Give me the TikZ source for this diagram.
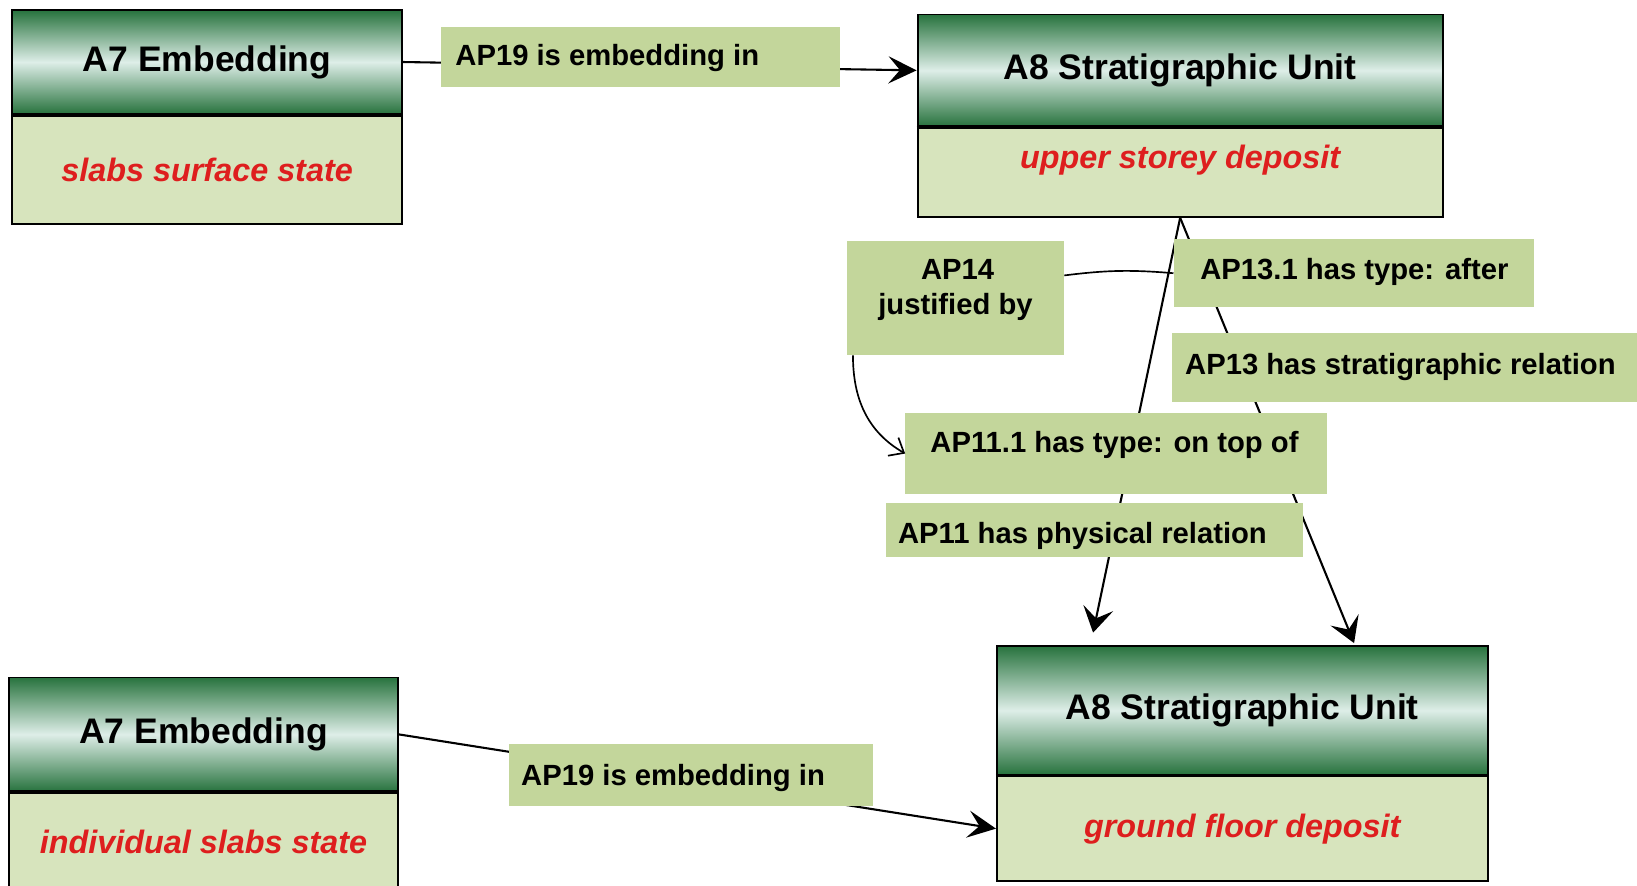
\documentclass[tikz,border=0pt]{standalone}
\usepackage{fontspec}
\setmainfont{Liberation Sans}
\usetikzlibrary{arrows.meta,calc}
\definecolor{hdrdark}{RGB}{40,115,62}
\definecolor{hdrlight}{RGB}{222,238,232}
\definecolor{lowfill}{RGB}{215,228,189}
\definecolor{lblfill}{RGB}{195,214,155}
\definecolor{redtxt}{RGB}{222,30,30}
\tikzset{
  hdr/.style={draw=black, line width=1.8pt, top color=hdrdark, bottom color=hdrdark, middle color=hdrlight,
    anchor=north west, inner sep=0pt, font=\fontsize{34}{40}\selectfont\bfseries},
  low/.style={draw=black, line width=1.8pt, fill=lowfill, anchor=north west, inner sep=0pt,
    text=redtxt, font=\fontsize{31}{37}\selectfont\bfseries\itshape},
  divider/.style={draw=black, line width=3pt},
  lbl/.style={fill=lblfill, anchor=north west, inner sep=0pt},
  lbltxt/.style={anchor=base west, inner sep=0pt, font=\fontsize{28}{33}\selectfont\bfseries},
  conn/.style={draw=black, line width=2pt},
  harrow/.style={-{Stealth[length=27pt,width=26pt,inset=11pt]}},
  varrow/.style={-{Stealth[length=24pt,width=29pt,inset=10pt]}},
  openarrow/.style={-{Straight Barb[length=12pt,width=20pt]}},
}
\begin{document}
\begin{tikzpicture}[x=1pt,y=1pt]
\path[use as bounding box, fill=white] (0,0) rectangle (1568,-848);

% class boxes
\node[hdr, minimum width=373pt, minimum height=99pt] (B1h) at (11,-9) {A7 Embedding};
\node[low, minimum width=373pt, minimum height=104pt] (B1l) at (B1h.south west) {slabs surface state};
\draw[divider] (B1h.south west) -- (B1h.south east);

\node[hdr, minimum width=503pt, minimum height=107pt] (B2h) at (878,-13) {A8 Stratigraphic Unit};
\node[low, minimum width=503pt, minimum height=85pt] (B2l) at (B2h.south west) {};
\node[anchor=base, inner sep=0pt, text=redtxt, font=\fontsize{31}{37}\selectfont\bfseries\itshape]
  (B2lt) at ($(B2l.north)+(0,-39.6)$) {upper storey deposit};
\draw[divider] (B2h.south west) -- (B2h.south east);

\node[hdr, minimum width=372pt, minimum height=109pt] (B3h) at (8,-648) {A7 Embedding};
\node[low, minimum width=372pt, minimum height=94pt] (B3l) at (B3h.south west) {individual slabs state};
\draw[divider] (B3h.south west) -- (B3h.south east);

\node[hdr, minimum width=470pt, minimum height=123pt] (B4h) at (954,-618) {A8 Stratigraphic Unit};
\node[low, minimum width=470pt, minimum height=100pt] (B4l) at (B4h.south west) {ground floor deposit};
\draw[divider] (B4h.south west) -- (B4h.south east);

% main connectors (under the labels)
\draw[conn, harrow] (B1h.east) -- (B2h.west);
\draw[conn, harrow] (B3h.east) -- (B4l.west);
\coordinate (t1) at ($(B4h.north west)+(93,12)$);
\coordinate (t2) at ($(B4h.north west)+(343,2)$);
\draw[conn, varrow] (B2l.south) -- (t1);
\draw[conn, varrow] (B2l.south) -- (t2);

% labels
\node[lbl, minimum width=382pt, minimum height=57pt] (L1) at (422,-26) {};
\node[lbltxt] (L1t) at ($(L1.north west)+(14,-37)$) {AP19 is embedding in};

\node[lbl, minimum width=349pt, minimum height=60pt] (L2) at (487,-712) {};
\node[lbltxt] (L2t) at ($(L2.north west)+(12,-40.5)$) {AP19 is embedding in};

\node[lbl, minimum width=208pt, minimum height=109pt] (L14) at (811,-231) {};
\node[lbltxt, anchor=base] (L14a) at ($(L14.north)+(2,-37)$) {AP14};
\node[lbltxt, anchor=base] (L14b) at ($(L14.north)+(0,-70.7)$) {justified by};

\node[lbl, minimum width=345pt, minimum height=65pt] (L131) at (1124,-229) {};
\node[lbltxt] (L131t) at ($(L131.north west)+(25.5,-38.5)$) {AP13.1 has type: after};

\node[lbl, minimum width=480pt, minimum height=66pt] (L13) at (1122,-319) {};
\node[lbltxt] (L13t) at ($(L13.north west)+(13,-39.4)$) {AP13 has stratigraphic relation};

\node[lbl, minimum width=404pt, minimum height=77.5pt] (L111) at (867,-395.5) {};
\node[lbltxt] (L111t) at ($(L111.north west)+(24,-37.9)$) {AP11.1 has type: on top of};

\node[lbl, minimum width=400pt, minimum height=52pt] (L11) at (848,-481.5) {};
\node[lbltxt] (L11t) at ($(L11.north west)+(12,-39.1)$) {AP11 has physical relation};

% AP14 connectors
\draw[conn, line width=1.6pt] ($(L14.north east)!0.3!(L14.south east)$) to[bend left=6] (L131.west);
\draw[conn, line width=1.6pt, openarrow] ($(L14.south west)+(6,0)$) to[out=-90, in=150] (L111.west);
\end{tikzpicture}
\end{document}
